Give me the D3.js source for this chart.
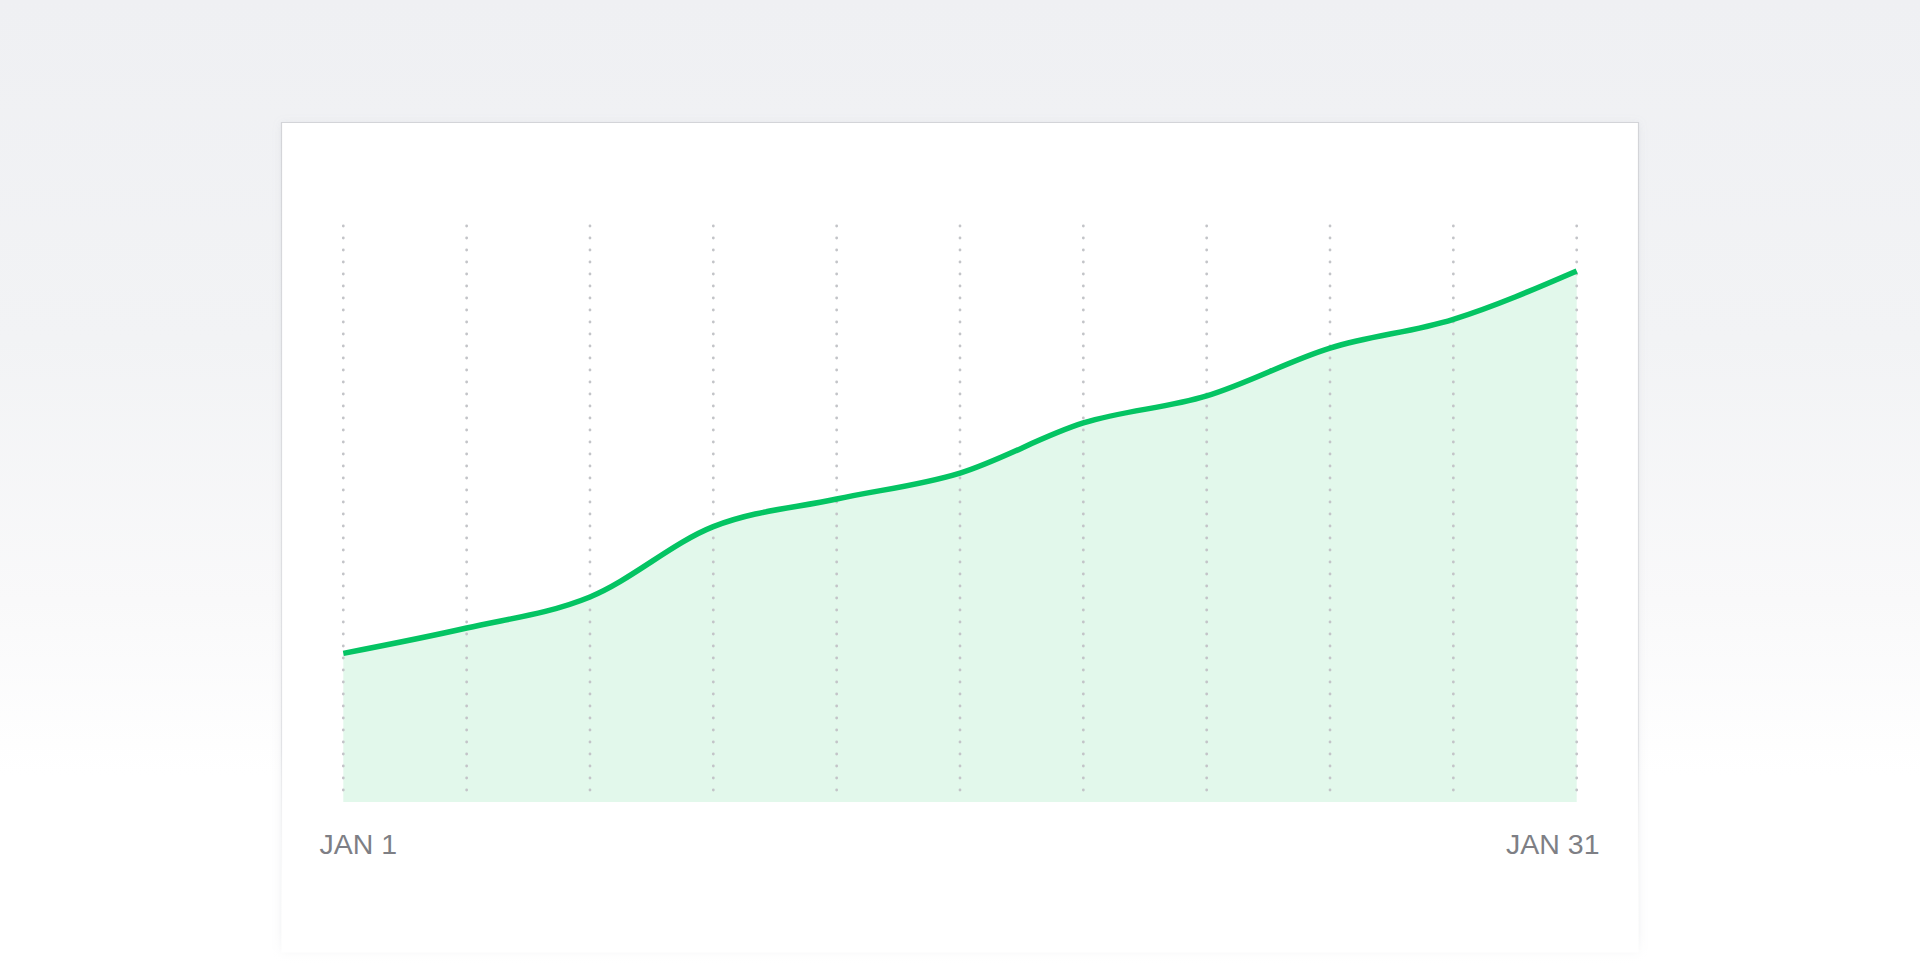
<!DOCTYPE html>
<html>
<head>
<meta charset="utf-8">
<script src="https://cdn.jsdelivr.net/npm/d3@7"></script>
<style>
  html, body { margin: 0; padding: 0; background: #ffffff; overflow: hidden; }
  svg { display: block; }
</style>
</head>
<body>
<svg id="chart" width="1920" height="969"></svg>
<script>
// ---- data ----
const days = [1, 4, 7, 10, 13, 16, 19, 22, 25, 28, 31];
const values = [25.8, 30.2, 35.6, 47.8, 52.6, 57.1, 65.8, 70.5, 78.8, 83.8, 92.2];
const tickDays = [1, 31];
const tickLabels = ["JAN 1", "JAN 31"];

const svg = d3.select("#chart");
const W = 1920, H = 969;
const defs = svg.append("defs");

// page background gradient
const bg = defs.append("linearGradient").attr("id", "bg").attr("x1", 0).attr("y1", 0).attr("x2", 0).attr("y2", 1);
bg.append("stop").attr("offset", "0%").attr("stop-color", "#eff0f3");
bg.append("stop").attr("offset", "35%").attr("stop-color", "#f2f3f5");
bg.append("stop").attr("offset", "62%").attr("stop-color", "#f9f9fa");
bg.append("stop").attr("offset", "80%").attr("stop-color", "#ffffff");
svg.append("rect").attr("width", W).attr("height", H).attr("fill", "url(#bg)");

// card
const card = { x: 281.5, y: 122.5, w: 1357, h: 830 };
const sideGrad = defs.append("linearGradient").attr("id", "side").attr("gradientUnits", "userSpaceOnUse")
  .attr("x1", 0).attr("y1", card.y).attr("x2", 0).attr("y2", card.y + card.h);
sideGrad.append("stop").attr("offset", "0%").attr("stop-color", "#d3d4d8");
sideGrad.append("stop").attr("offset", "75%").attr("stop-color", "#e2e3e6");
sideGrad.append("stop").attr("offset", "100%").attr("stop-color", "#ffffff").attr("stop-opacity", 0);

const shadow = defs.append("filter").attr("id", "shadow").attr("x", "-5%").attr("y", "-5%").attr("width", "110%").attr("height", "110%");
shadow.append("feDropShadow").attr("dx", 0).attr("dy", 1).attr("stdDeviation", 4)
  .attr("flood-color", "#9aa0aa").attr("flood-opacity", 0.18);

svg.append("rect")
  .attr("x", card.x).attr("y", card.y).attr("width", card.w).attr("height", card.h)
  .attr("fill", "#ffffff").attr("filter", "url(#shadow)");
// fade bottom of card into the white page
const fade = defs.append("linearGradient").attr("id", "fade").attr("x1", 0).attr("y1", 0).attr("x2", 0).attr("y2", 1);
fade.append("stop").attr("offset", "0%").attr("stop-color", "#ffffff").attr("stop-opacity", 0);
fade.append("stop").attr("offset", "100%").attr("stop-color", "#ffffff").attr("stop-opacity", 1);
svg.append("rect").attr("x", card.x - 15).attr("y", 930).attr("width", card.w + 30).attr("height", 39).attr("fill", "url(#fade)");

svg.append("path")
  .attr("d", `M${card.x},${card.y + card.h} V${card.y} H${card.x + card.w} V${card.y + card.h}`)
  .attr("fill", "none").attr("stroke", "url(#side)").attr("stroke-width", 1.2);

// ---- scales ----
const x = d3.scaleLinear().domain([1, 31]).range([343.3, 1576.7]);
const y = d3.scaleLinear().domain([0, 100]).range([802, 226]);

const data = days.map((d, i) => ({ day: d, value: values[i] }));

// area
svg.append("path")
  .datum(data)
  .attr("fill", "#e2f8eb")
  .attr("d", d3.area().x(d => x(d.day)).y0(y(0)).y1(d => y(d.value)).curve(d3.curveMonotoneX));

// dotted grid lines
svg.append("g").selectAll("line")
  .data(days)
  .join("line")
  .attr("x1", d => x(d)).attr("x2", d => x(d))
  .attr("y1", y(100)).attr("y2", y(0))
  .attr("stroke", "#c3c4c8")
  .attr("stroke-width", 2.8)
  .attr("stroke-linecap", "round")
  .attr("stroke-dasharray", "0,12");

// line
svg.append("path")
  .datum(data)
  .attr("fill", "none")
  .attr("stroke", "#04c463")
  .attr("stroke-width", 5.5)
  .attr("stroke-linejoin", "round")
  .attr("d", d3.line().x(d => x(d.day)).y(d => y(d.value)).curve(d3.curveMonotoneX));

// x labels
svg.append("g").selectAll("text")
  .data(tickDays)
  .join("text")
  .attr("x", (d, i) => i === 0 ? 319.5 : 1599.5)
  .attr("y", 854)
  .attr("text-anchor", (d, i) => i === 0 ? "start" : "end")
  .attr("font-family", "'Liberation Sans', Arial, sans-serif")
  .attr("font-weight", 400)
  .attr("font-size", 28.5)
  .attr("fill", "#7e7f85")
  .text((d, i) => tickLabels[i]);
</script>
</body>
</html>
